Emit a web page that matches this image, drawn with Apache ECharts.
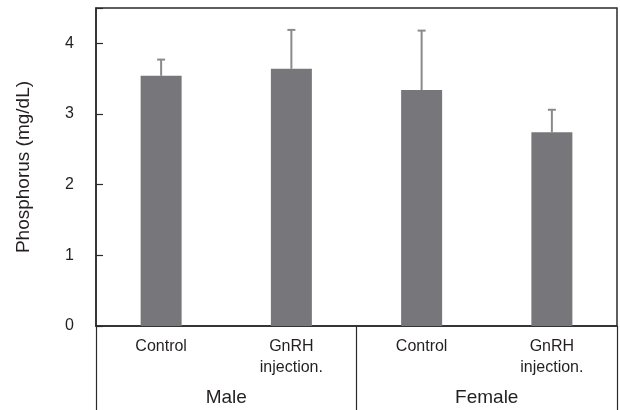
<!DOCTYPE html>
<html>
<head>
<meta charset="utf-8">
<script src="https://cdn.jsdelivr.net/npm/echarts@6/dist/echarts.min.js"></script>
<style>
  html, body { margin: 0; padding: 0; background: #fff; }
  #chart { width: 620px; height: 410px; }
</style>
</head>
<body>
<div id="chart"></div>
<script>
// Serum phosphorus by treatment group, split by sex
const treatments = ['Control', 'GnRH\ninjection.', 'Control', 'GnRH\ninjection.'];
const sexes = ['Male', 'Female'];
const means = [3.54, 3.64, 3.34, 2.74];
const errors = [0.23, 0.55, 0.84, 0.32];
const yTicks = [0, 1, 2, 3, 4];

const textColor = '#231f20';
const lineColor = '#2a2a2a';
const font = 'Liberation Sans, Arial, sans-serif';

const chart = echarts.init(document.getElementById('chart'), null, { renderer: 'canvas' });

chart.setOption({
  animation: false,
  grid: {
    left: 96, right: 3, top: 8, bottom: 84,
    show: true, borderColor: lineColor, borderWidth: 1.5, backgroundColor: 'transparent'
  },
  xAxis: [
    {
      type: 'category',
      data: treatments,
      position: 'bottom',
      axisLine: { show: true, lineStyle: { color: lineColor, width: 1.5 } },
      axisTick: { show: false },
      axisLabel: {
        margin: 10, fontSize: 16, lineHeight: 21, color: textColor,
        fontFamily: font, interval: 0, align: 'center'
      }
    },
    {
      type: 'category',
      data: sexes,
      position: 'bottom',
      axisLine: { show: false },
      axisTick: { show: true, length: 84, lineStyle: { color: lineColor, width: 1.2 } },
      axisLabel: { margin: 62, fontSize: 19, color: textColor, fontFamily: font }
    }
  ],
  yAxis: {
    type: 'value',
    min: 0, max: 4.5, interval: 1,
    name: 'Phosphorus (mg/dL)',
    nameLocation: 'middle',
    nameGap: 63,
    nameTextStyle: { fontSize: 19, color: textColor, fontFamily: font },
    axisLine: { show: true, lineStyle: { color: lineColor, width: 1.5 } },
    axisTick: { show: true, inside: true, length: 7, lineStyle: { color: lineColor, width: 1.2 } },
    splitLine: { show: false },
    axisLabel: {
      margin: 22, fontSize: 16, color: textColor, fontFamily: font,
      formatter: v => (yTicks.indexOf(v) >= 0 ? String(v) : '')
    }
  },
  series: [
    {
      type: 'bar',
      data: means,
      barWidth: 41,
      itemStyle: { color: '#77777b' }
    },
    {
      type: 'custom',
      data: means.map((m, i) => [i, m, m + errors[i]]),
      z: 3,
      renderItem: function (params, api) {
        const base = api.coord([api.value(0), api.value(1)]);
        const top = api.coord([api.value(0), api.value(2)]);
        const half = 4;
        const style = { stroke: '#8a8a8e', lineWidth: 2 };
        return {
          type: 'group',
          children: [
            { type: 'line', shape: { x1: base[0], y1: base[1], x2: top[0], y2: top[1] }, style },
            { type: 'line', shape: { x1: top[0] - half, y1: top[1], x2: top[0] + half, y2: top[1] }, style }
          ]
        };
      }
    }
  ]
});
</script>
</body>
</html>
